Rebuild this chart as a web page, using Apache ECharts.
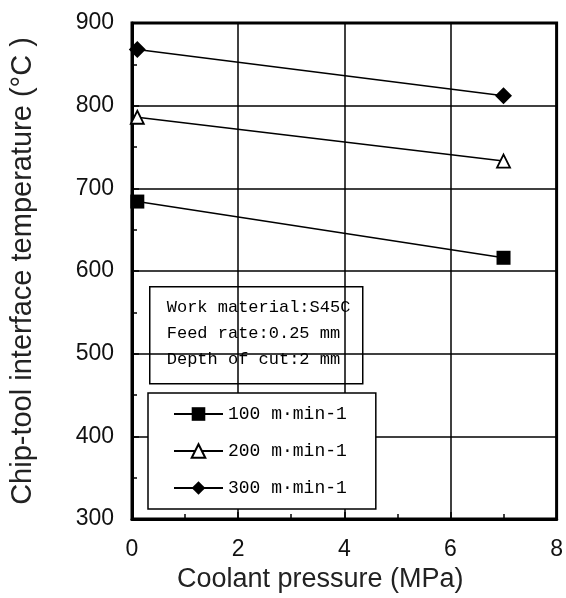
<!DOCTYPE html>
<html>
<head>
<meta charset="utf-8">
<script src="https://cdn.jsdelivr.net/npm/echarts@6/dist/echarts.min.js"></script>
<style>
  html, body { margin: 0; padding: 0; background: #fff; }
  #chart { width: 566px; height: 598px; }
</style>
</head>
<body>
<div id="chart"></div>
<script>
// coolant pressure (MPa) at which each cutting speed was measured
const pressure = [0.1, 7];
const speedNames = ['100 m·min-1', '200 m·min-1', '300 m·min-1'];
const temp100 = [684, 616];
const temp200 = [786, 733];
const temp300 = [868, 812];

const noteLines = ['Work material:S45C', 'Feed rate:0.25 mm', 'Depth of cut:2 mm'];

const sans = '"Liberation Sans", Arial, sans-serif';
const mono = '"Liberation Mono", "DejaVu Sans Mono", monospace';

const pts = (ys) => pressure.map((x, i) => [x, ys[i]]);

const chart = echarts.init(document.getElementById('chart'));

const lineStyle = { color: '#000', width: 1.5 };

chart.setOption({
  animation: false,
  backgroundColor: '#fff',
  grid: {
    left: 132, right: 6, top: 23, bottom: 79,
    show: true, borderColor: '#000', borderWidth: 3
  },
  xAxis: {
    type: 'value', min: 0, max: 8, interval: 2,
    name: 'Coolant pressure (MPa)',
    nameLocation: 'middle', nameGap: 45,
    nameTextStyle: { fontFamily: sans, fontSize: 27, color: '#222', padding: [0, 48, 0, 0] },
    axisLine: { lineStyle: { color: '#000', width: 3 } },
    axisTick: { inside: true, length: 7, lineStyle: { color: '#000', width: 1.5 } },
    minorTick: { show: true, splitNumber: 2, length: 5, lineStyle: { color: '#000', width: 1.5 } },
    axisLabel: { fontFamily: sans, fontSize: 23, color: '#111', margin: 19 },
    splitLine: { show: true, lineStyle: { color: '#000', width: 1.5 } }
  },
  yAxis: {
    type: 'value', min: 300, max: 900, interval: 100,
    name: 'Chip-tool interface temperature (°C )',
    nameLocation: 'middle', nameGap: 95, nameRotate: 90,
    nameTextStyle: { fontFamily: sans, fontSize: 29, color: '#222' },
    axisLine: { lineStyle: { color: '#000', width: 3 } },
    axisTick: { inside: true, length: 7, lineStyle: { color: '#000', width: 1.5 } },
    minorTick: { show: true, splitNumber: 2, length: 5, lineStyle: { color: '#000', width: 1.5 } },
    axisLabel: { fontFamily: sans, fontSize: 23, color: '#111', margin: 18 },
    splitLine: { show: true, lineStyle: { color: '#000', width: 1.5 } }
  },
  legend: {
    orient: 'vertical', left: 148, top: 393,
    padding: [12, 29, 12, 25],
    backgroundColor: '#fff', borderColor: '#000', borderWidth: 1.5,
    itemWidth: 49, itemHeight: 17, itemGap: 19,
    textStyle: { fontFamily: mono, fontSize: 18, color: '#000' },
    data: speedNames
  },
  series: [
    {
      name: speedNames[0], type: 'line', data: pts(temp100),
      symbol: 'rect', symbolSize: 14,
      itemStyle: { color: '#000' }, lineStyle
    },
    {
      name: speedNames[1], type: 'line', data: pts(temp200),
      symbol: 'triangle', symbolSize: 13,
      itemStyle: { color: '#fff', borderColor: '#000', borderWidth: 1.8 }, lineStyle
    },
    {
      name: speedNames[2], type: 'line', data: pts(temp300),
      symbol: 'diamond', symbolSize: 17,
      itemStyle: { color: '#000' }, lineStyle
    }
  ],
  graphic: [
    {
      type: 'group', left: 149, top: 286, z: 100,
      children: [
        {
          type: 'rect', shape: { x: 0, y: 0, width: 213, height: 97 },
          style: { fill: '#fff', stroke: '#000', lineWidth: 1.5 }
        },
        {
          type: 'text', x: 17, y: 8,
          style: {
            text: noteLines.join('\n'), fill: '#000',
            font: '17px ' + mono, lineHeight: 26
          }
        }
      ]
    }
  ]
});
</script>
</body>
</html>
